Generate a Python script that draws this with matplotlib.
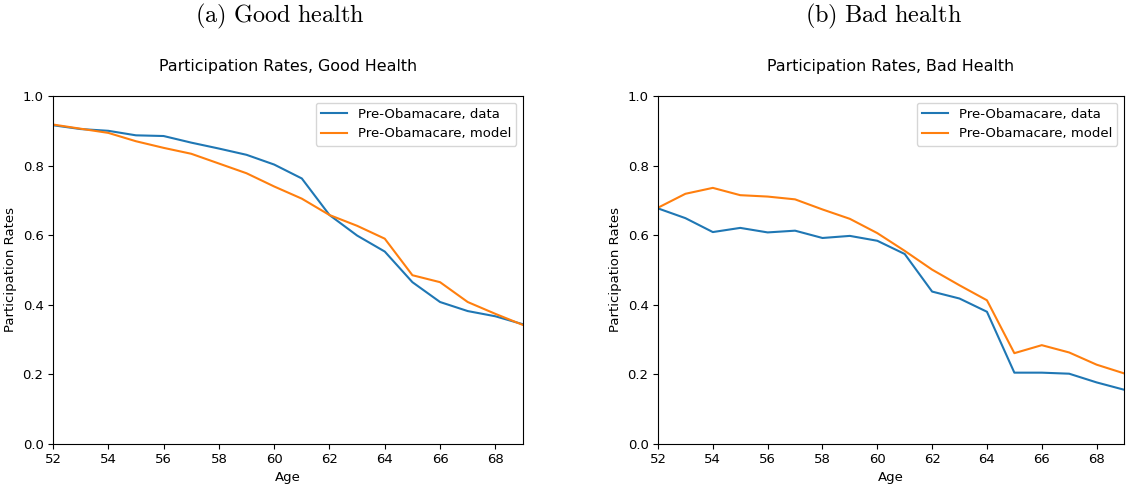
import matplotlib
matplotlib.use('Agg')
import matplotlib.pyplot as plt
import numpy as np

plt.rcParams['mathtext.fontset'] = 'cm'

age = np.arange(52, 70)

good_data = [0.916, 0.905, 0.900, 0.887, 0.885, 0.866, 0.849, 0.831, 0.803,
             0.763, 0.658, 0.599, 0.553, 0.465, 0.408, 0.382, 0.367, 0.344]
good_model = [0.918, 0.906, 0.894, 0.870, 0.851, 0.834, 0.806, 0.778, 0.740,
              0.705, 0.658, 0.627, 0.590, 0.485, 0.465, 0.408, 0.374, 0.342]

bad_data = [0.677, 0.649, 0.609, 0.621, 0.608, 0.613, 0.592, 0.598, 0.584,
            0.546, 0.438, 0.418, 0.380, 0.205, 0.205, 0.202, 0.177, 0.156]
bad_model = [0.679, 0.719, 0.736, 0.715, 0.711, 0.703, 0.674, 0.647, 0.606,
             0.555, 0.501, 0.456, 0.413, 0.261, 0.284, 0.263, 0.228, 0.203]

panels = [
    ('(a)\\ Good\\ health', 'Participation Rates, Good Health', good_data, good_model),
    ('(b)\\ Bad\\ health', 'Participation Rates, Bad Health', bad_data, bad_model),
]

W, H = 1127, 488
fig = plt.figure(figsize=(W / 100, H / 100), dpi=100)

# axes boxes in pixels: left, right
boxes = [(53, 523), (658, 1124)]
top, bottom = 96, 444

fs = 9.5
for (sub, title, data, model), (x0, x1) in zip(panels, boxes):
    ax = fig.add_axes([x0 / W, (H - bottom) / H, (x1 - x0) / W, (bottom - top) / H])
    ax.plot(age, data, color='#1f77b4', lw=1.5, label='Pre-Obamacare, data')
    ax.plot(age, model, color='#ff7f0e', lw=1.5, label='Pre-Obamacare, model')
    ax.set_xlim(52, 69)
    ax.set_ylim(0, 1.0)
    ax.set_xticks(np.arange(52, 70, 2))
    ax.set_yticks(np.arange(0, 1.01, 0.2))
    ax.tick_params(labelsize=fs, width=0.8, length=3.3)
    ax.set_xlabel('Age', fontsize=fs, labelpad=3)
    ax.set_ylabel('Participation Rates', fontsize=fs, labelpad=4)
    ax.set_title(title, fontsize=11.4, pad=18)
    for s in ax.spines.values():
        s.set_linewidth(0.8)
    ax.legend(loc='upper right', fontsize=fs)
    cx = (x0 + x1) / 2 / W
    fig.text(cx - 0.007, 1 - 16 / H, '$\\mathrm{' + sub + '}$', ha='center', va='center',
             fontsize=17.5)

fig.savefig('out.png', dpi=100)
